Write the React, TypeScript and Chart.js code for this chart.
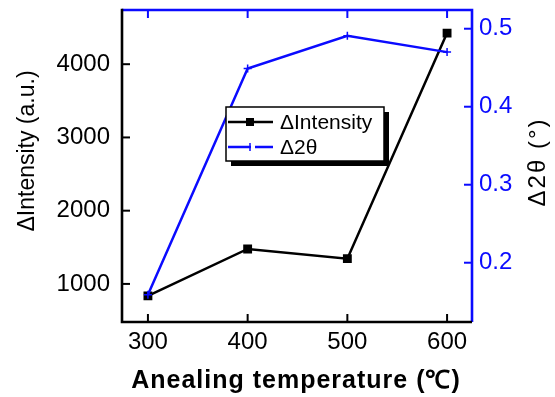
import React, { useEffect, useRef } from 'react';
import { Chart, registerables } from 'chart.js';

Chart.register(...registerables);

const temperatures = [300, 400, 500, 600];
const deltaIntensity = [836, 1477, 1345, 4425];
const delta2Theta = [0.159, 0.449, 0.491, 0.47];
const xTicks = [300, 400, 500, 600];
const leftTicks = [1000, 2000, 3000, 4000];
const rightTicks = [0.2, 0.3, 0.4, 0.5];
const xTitle = 'Anealing temperature (\u2103)';
const leftTitle = '\u0394Intensity (a.u.)';
const rightTitle = '\u03942\u03b8 (\u00b0)';
const legendLabels = ['\u0394Intensity', '\u03942\u03b8'];

const BLUE = '#0b0bff';
const FONT = '"Liberation Sans", Arial, sans-serif';

const framePlugin = {
  id: 'frameAndTicks',
  afterDraw(chart: any) {
    const ctx = chart.ctx;
    const { left, right, top, bottom } = chart.chartArea;
    const xs = chart.scales.x;
    const yl = chart.scales.y;
    const yr = chart.scales.y1;
    const tl = 8;
    ctx.save();
    ctx.lineCap = 'butt';
    ctx.lineWidth = 2;
    xTicks.forEach((v) => {
      const px = xs.getPixelForValue(v);
      ctx.strokeStyle = '#000';
      ctx.beginPath();
      ctx.moveTo(px, bottom);
      ctx.lineTo(px, bottom - tl);
      ctx.stroke();
      ctx.strokeStyle = BLUE;
      ctx.beginPath();
      ctx.moveTo(px, top);
      ctx.lineTo(px, top + tl);
      ctx.stroke();
    });
    leftTicks.forEach((v) => {
      const py = yl.getPixelForValue(v);
      ctx.strokeStyle = '#000';
      ctx.beginPath();
      ctx.moveTo(left, py);
      ctx.lineTo(left + tl, py);
      ctx.stroke();
    });
    rightTicks.forEach((v) => {
      const py = yr.getPixelForValue(v);
      ctx.strokeStyle = BLUE;
      ctx.beginPath();
      ctx.moveTo(right, py);
      ctx.lineTo(right - tl, py);
      ctx.stroke();
    });
    ctx.lineWidth = 2.6;
    ctx.strokeStyle = BLUE;
    ctx.beginPath();
    ctx.moveTo(left, top);
    ctx.lineTo(right, top);
    ctx.lineTo(right, bottom);
    ctx.stroke();
    ctx.strokeStyle = '#000';
    ctx.beginPath();
    ctx.moveTo(left, top - 1.3);
    ctx.lineTo(left, bottom);
    ctx.lineTo(right, bottom);
    ctx.stroke();

    ctx.fillStyle = '#000';
    ctx.textAlign = 'center';
    ctx.textBaseline = 'middle';
    ctx.font = `bold 25px ${FONT}`;
    (ctx as any).letterSpacing = '1px';
    ctx.fillText(xTitle, 296, 381);
    (ctx as any).letterSpacing = '0px';
    ctx.font = `23px ${FONT}`;
    ctx.save();
    ctx.translate(28, 151);
    ctx.rotate(-Math.PI / 2);
    ctx.fillText(leftTitle, 0, 0);
    ctx.restore();
    ctx.save();
    ctx.translate(538, 162);
    ctx.rotate(-Math.PI / 2);
    ctx.font = `24px ${FONT}`;
    (ctx as any).letterSpacing = '2px';
    ctx.fillText(rightTitle, 0, 0);
    ctx.restore();
    (ctx as any).letterSpacing = '0px';

    const bx = 226, by = 107, bw = 158, bh = 54;
    ctx.fillStyle = '#000';
    ctx.fillRect(bx + 5, by + 5, bw, bh);
    ctx.fillStyle = '#fff';
    ctx.fillRect(bx, by, bw, bh);
    ctx.lineWidth = 1.5;
    ctx.strokeStyle = '#000';
    ctx.strokeRect(bx, by, bw, bh);
    const y1 = 122;
    ctx.lineWidth = 2.5;
    ctx.beginPath();
    ctx.moveTo(bx + 2, y1);
    ctx.lineTo(bx + 47, y1);
    ctx.stroke();
    ctx.fillStyle = '#000';
    ctx.fillRect(bx + 20, y1 - 4, 8, 8);
    const y2 = 147;
    ctx.strokeStyle = BLUE;
    ctx.beginPath();
    ctx.moveTo(bx + 2, y2);
    ctx.lineTo(bx + 25, y2);
    ctx.moveTo(bx + 29, y2);
    ctx.lineTo(bx + 47, y2);
    ctx.stroke();
    ctx.lineWidth = 1.5;
    ctx.beginPath();
    ctx.moveTo(bx + 24, y2 - 4);
    ctx.lineTo(bx + 24, y2 + 4);
    ctx.stroke();
    ctx.fillStyle = '#000';
    ctx.textAlign = 'left';
    ctx.font = `21px ${FONT}`;
    ctx.fillText(legendLabels[0], bx + 54, y1 + 1);
    ctx.fillText(legendLabels[1], bx + 54, y2 + 1);
    ctx.restore();
  },
};

export default function App() {
  const ref = useRef<HTMLCanvasElement | null>(null);
  useEffect(() => {
    if (!ref.current) return;
    const chart = new Chart(ref.current, {
      type: 'line',
      data: {
        datasets: [
          {
            label: legendLabels[1],
            data: temperatures.map((t, i) => ({ x: t, y: delta2Theta[i] })),
            yAxisID: 'y1',
            borderColor: BLUE,
            backgroundColor: BLUE,
            borderWidth: 2.5,
            pointStyle: 'cross',
            pointRadius: 4,
            pointBorderWidth: 1.5,
            tension: 0,
          },
          {
            label: legendLabels[0],
            data: temperatures.map((t, i) => ({ x: t, y: deltaIntensity[i] })),
            yAxisID: 'y',
            borderColor: '#000',
            backgroundColor: '#000',
            borderWidth: 2.5,
            pointStyle: 'rect',
            pointRadius: 4.5,
            tension: 0,
          },
        ],
      },
      options: {
        responsive: false,
        animation: false,
        clip: false as any,
        layout: { padding: { top: 10, left: 0, right: 0, bottom: 0 } },
        plugins: { legend: { display: false }, tooltip: { enabled: false } },
        scales: {
          x: {
            type: 'linear',
            min: 274,
            max: 625,
            afterBuildTicks: (s: any) => {
              s.ticks = xTicks.map((v) => ({ value: v }));
            },
            afterFit: (s: any) => {
              s.height = 75;
              s.paddingLeft = 0;
              s.paddingRight = 0;
            },
            grid: { display: false, drawTicks: false },
            border: { display: false },
            ticks: { color: '#000', font: { size: 24, family: FONT }, padding: 6, callback: (v: any) => String(v) },
          },
          y: {
            type: 'linear',
            position: 'left',
            min: 480,
            max: 4740,
            afterBuildTicks: (s: any) => {
              s.ticks = leftTicks.map((v) => ({ value: v }));
            },
            afterFit: (s: any) => {
              s.width = 122;
              s.paddingTop = 0;
              s.paddingBottom = 0;
            },
            grid: { display: false, drawTicks: false },
            border: { display: false },
            ticks: { color: '#000', font: { size: 24, family: FONT }, padding: 12, callback: (v: any) => String(v) },
          },
          y1: {
            type: 'linear',
            position: 'right',
            min: 0.124,
            max: 0.524,
            afterBuildTicks: (s: any) => {
              s.ticks = rightTicks.map((v) => ({ value: v }));
            },
            afterFit: (s: any) => {
              s.width = 83;
              s.paddingTop = 0;
              s.paddingBottom = 0;
            },
            grid: { display: false, drawTicks: false },
            border: { display: false },
            ticks: {
              color: BLUE,
              font: { size: 24, family: FONT },
              padding: 7,
              callback: (v: any) => Number(v).toFixed(1),
            },
          },
        },
      },
      plugins: [framePlugin],
    });
    return () => chart.destroy();
  }, []);
  return (
    <div style={{ position: 'absolute', left: 0, top: 0, width: 555, height: 397, background: '#fff' }}>
      <canvas ref={ref} width={555} height={397} style={{ display: 'block' }} />
    </div>
  );
}
